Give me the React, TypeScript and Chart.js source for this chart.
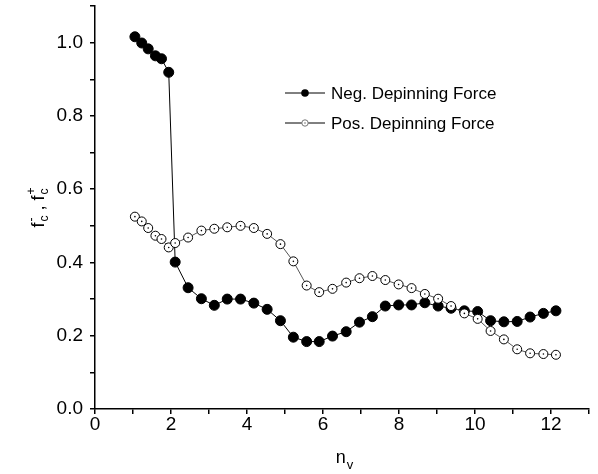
import React, { useEffect, useRef } from 'react';
import { Chart, registerables } from 'chart.js';
Chart.register(...registerables);

const nv = [1.05, 1.23, 1.40, 1.59, 1.75, 1.94, 2.11, 2.45, 2.80, 3.14, 3.48, 3.83, 4.18, 4.53, 4.88, 5.22, 5.57, 5.90, 6.25, 6.61, 6.96, 7.30, 7.64, 7.99, 8.33, 8.68, 9.03, 9.37, 9.72, 10.07, 10.41, 10.76, 11.11, 11.45, 11.80, 12.13];
const negForce = [1.016, 0.999, 0.983, 0.964, 0.956, 0.919, 0.401, 0.331, 0.301, 0.283, 0.300, 0.300, 0.289, 0.272, 0.241, 0.196, 0.184, 0.184, 0.199, 0.211, 0.237, 0.252, 0.281, 0.284, 0.284, 0.290, 0.281, 0.275, 0.268, 0.266, 0.241, 0.238, 0.239, 0.251, 0.261, 0.268];
const posForce = [0.525, 0.512, 0.494, 0.473, 0.464, 0.441, 0.453, 0.468, 0.487, 0.492, 0.496, 0.500, 0.494, 0.478, 0.450, 0.403, 0.337, 0.319, 0.328, 0.345, 0.357, 0.363, 0.352, 0.340, 0.330, 0.314, 0.301, 0.281, 0.261, 0.246, 0.213, 0.190, 0.163, 0.152, 0.150, 0.148];
const seriesNames = ['Neg. Depinning Force', 'Pos. Depinning Force'];
const xTitleMain = 'n';
const xTitleSub = 'v';

const FONT = '"Liberation Sans", Arial, sans-serif';

const toPts = (ys: number[]) => nv.map((x, i) => ({ x, y: ys[i] }));

const decorPlugin = {
  id: 'decor',
  afterDraw(chart: any) {
    const ctx = chart.ctx as CanvasRenderingContext2D;
    const xs = chart.scales.x;
    const ys = chart.scales.y;
    ctx.save();
    ctx.fillStyle = '#000';
    // x title
    ctx.font = `18px ${FONT}`;
    const wn = ctx.measureText(xTitleMain).width;
    ctx.font = `13px ${FONT}`;
    const wv = ctx.measureText(xTitleSub).width;
    const cx = (xs.left + xs.right) / 2;
    const x0 = cx - (wn + wv) / 2 + 2;
    ctx.textBaseline = 'alphabetic';
    ctx.textAlign = 'left';
    ctx.font = `18px ${FONT}`;
    ctx.fillText(xTitleMain, x0, 463);
    ctx.font = `13px ${FONT}`;
    ctx.fillText(xTitleSub, x0 + wn + 1, 469);

    // y title rotated
    ctx.save();
    ctx.translate(44, (ys.top + ys.bottom) / 2);
    ctx.rotate(-Math.PI / 2);
    const parts: { t: string; sup: string; sub: string }[] = [
      { t: 'f', sup: '-', sub: 'c' },
      { t: ' , ', sup: '', sub: '' },
      { t: 'f', sup: '+', sub: 'c' },
    ];
    const widths = parts.map(p => {
      ctx.font = `18px ${FONT}`;
      const w = ctx.measureText(p.t).width;
      ctx.font = `12px ${FONT}`;
      const ws = Math.max(ctx.measureText(p.sup).width, ctx.measureText(p.sub).width);
      return w + (p.sup || p.sub ? ws + 1 : 0);
    });
    const total = widths.reduce((a, b) => a + b, 0);
    let px = -total / 2;
    parts.forEach((p, i) => {
      ctx.font = `18px ${FONT}`;
      ctx.fillText(p.t, px, 0);
      const w = ctx.measureText(p.t).width;
      if (p.sup || p.sub) {
        ctx.font = `12px ${FONT}`;
        ctx.fillText(p.sup, px + w + 1, -9);
        ctx.fillText(p.sub, px + w + 1, 4);
      }
      px += widths[i];
    });
    ctx.restore();

    // legend
    const lx1 = 285, lx2 = 325, mx = 305;
    const rows = [93, 123];
    rows.forEach((ry, i) => {
      ctx.strokeStyle = '#000';
      ctx.lineWidth = 1;
      ctx.beginPath();
      ctx.moveTo(lx1, ry);
      ctx.lineTo(lx2, ry);
      ctx.stroke();
      ctx.beginPath();
      ctx.arc(mx, ry, i === 0 ? 3.8 : 3.2, 0, Math.PI * 2);
      if (i === 0) {
        ctx.fillStyle = '#000';
        ctx.fill();
      } else {
        ctx.fillStyle = '#fff';
        ctx.fill();
        ctx.strokeStyle = '#777';
        ctx.stroke();
        ctx.fillStyle = '#000';
        ctx.fillRect(mx - 0.5, ry - 0.5, 1, 1);
      }
      ctx.fillStyle = '#000';
      ctx.font = `17px ${FONT}`;
      ctx.textBaseline = 'middle';
      ctx.textAlign = 'left';
      ctx.fillText(seriesNames[i], 331, ry + 1);
    });
    ctx.restore();
  },
};

export default function App() {
  const ref = useRef<HTMLCanvasElement>(null);
  useEffect(() => {
    if (!ref.current) return;
    const chart = new Chart(ref.current, {
      type: 'scatter',
      data: {
        datasets: [
          {
            label: 'pos-dot',
            data: toPts(posForce),
            showLine: false,
            pointRadius: 0.8,
            pointBackgroundColor: '#000',
            pointBorderWidth: 0,
            borderWidth: 0,
          },
          {
            label: seriesNames[1],
            data: toPts(posForce),
            showLine: true,
            borderColor: '#555',
            borderWidth: 1,
            pointRadius: 4.5,
            pointBackgroundColor: '#fff',
            pointBorderColor: '#000',
            pointBorderWidth: 1,
          },
          {
            label: seriesNames[0],
            data: toPts(negForce),
            showLine: true,
            borderColor: '#000',
            borderWidth: 1,
            pointRadius: 5,
            pointBackgroundColor: '#000',
            pointBorderColor: '#000',
            pointBorderWidth: 1,
          },
        ],
      } as any,
      options: {
        responsive: false,
        animation: false,
        layout: { padding: { top: 6, right: 9, left: 0, bottom: 0 } },
        plugins: { legend: { display: false }, tooltip: { enabled: false } },
        scales: {
          x: {
            type: 'linear',
            min: 0,
            max: 13,
            afterFit: (s: any) => { s.height = 65; s.paddingLeft = 0; s.paddingRight = 0; },
            ticks: {
              stepSize: 1,
              autoSkip: false,
              maxRotation: 0,
              padding: -1,
              color: '#000',
              font: { family: FONT, size: 19 },
              callback: (v: any) => (Math.round(v) % 2 === 0 ? String(Math.round(v)) : ''),
            },
            grid: { drawOnChartArea: false, tickLength: 5, color: '#000', lineWidth: 1.5 },
            border: { color: '#000', width: 1.5 },
          },
          y: {
            type: 'linear',
            min: 0,
            max: 1.1,
            afterFit: (s: any) => { s.width = 95; s.paddingTop = 0; s.paddingBottom = 0; },
            ticks: {
              stepSize: 0.1,
              autoSkip: false,
              padding: 7,
              color: '#000',
              font: { family: FONT, size: 19 },
              callback: (v: any) => {
                const k = Math.round(v * 10);
                return k % 2 === 0 && k <= 10 ? (k / 10).toFixed(1) : '';
              },
            },
            grid: { drawOnChartArea: false, tickLength: 5, color: '#000', lineWidth: 1.5 },
            border: { color: '#000', width: 1.5 },
          },
        },
      },
      plugins: [decorPlugin],
    });
    return () => chart.destroy();
  }, []);
  return (
    <div style={{ position: 'fixed', left: 0, top: 0, width: 598, height: 474, background: '#fff' }}>
      <canvas ref={ref} width={598} height={474} />
    </div>
  );
}
